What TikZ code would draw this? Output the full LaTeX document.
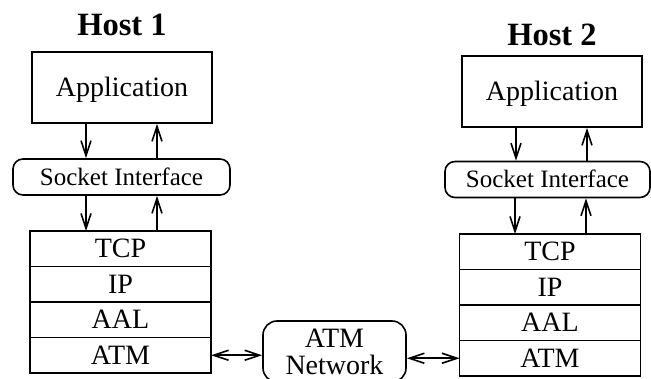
\documentclass[tikz,border=0pt]{standalone}
\usepackage{fontspec}
\setmainfont{Liberation Serif}
\usetikzlibrary{arrows.meta,positioning}

\tikzset{
  layer/.style={draw, minimum width=181pt, minimum height=35.5pt, inner sep=0pt, outer sep=0pt,
    text height=18.5pt, text depth=0pt},
  appbox/.style={draw, minimum width=180pt, minimum height=71pt, inner sep=0pt,
    text height=18.5pt, text depth=0pt},
  sockbox/.style={draw, rounded corners=10pt, minimum height=36pt, inner sep=0pt,
    text height=16.5pt, text depth=0pt, font=\fontsize{25}{28}\selectfont},
  netbox/.style={draw, rounded corners=14pt, minimum width=143pt, minimum height=61pt,
    inner sep=0pt, align=center, font=\fontsize{28}{27}\selectfont},
  hosttitle/.style={font=\fontsize{32.5}{34}\selectfont\bfseries},
  flow/.style={-{Straight Barb[length=15pt,width=10pt]}},
  biflow/.style={{Straight Barb[length=15pt,width=10pt]}-{Straight Barb[length=15pt,width=10pt]}},
}

\begin{document}
\begin{tikzpicture}[x=1pt, y=-1pt, line width=1.6pt, font=\fontsize{28}{25}\selectfont]
\clip (0,0) rectangle (651,379);

% Host 1
\node[hosttitle] (host1) at (122,25) {Host 1};
\node[appbox] (app1) at (122,87.5) {Application};
\node[sockbox, minimum width=217pt] (sock1) at (121.5,177) {Socket Interface};
\node[layer] (tcp1) at (120.5,248.75) {TCP};
\node[layer, below=0pt of tcp1] (ip1) {IP};
\node[layer, below=0pt of ip1] (aal1) {AAL};
\node[layer, below=0pt of aal1] (atm1) {ATM};

% Host 2
\node[hosttitle] (host2) at (552,35) {Host 2};
\node[appbox] (app2) at (552,91.5) {Application};
\node[sockbox, minimum width=205pt] (sock2) at (547.5,179.5) {Socket Interface};
\node[layer] (tcp2) at (550,251.75) {TCP};
\node[layer, below=0pt of tcp2] (ip2) {IP};
\node[layer, below=0pt of ip2] (aal2) {AAL};
\node[layer, below=0pt of aal2] (atm2) {ATM};

% network
\node[netbox] (net) at (334.5,351.5) {ATM\\Network};

% up and down the stacks
\draw[flow] ([xshift=-36pt]app1.south) -- ([xshift=-36pt]app1.south |- sock1.north);
\draw[flow] ([xshift=35pt]app1.south |- sock1.north) -- ([xshift=35pt]app1.south);
\draw[flow] ([xshift=-36pt]app1.south |- sock1.south) -- ([xshift=-36pt]app1.south |- tcp1.north);
\draw[flow] ([xshift=35pt]app1.south |- tcp1.north) -- ([xshift=35pt]app1.south |- sock1.south);

\draw[flow] ([xshift=-36pt]app2.south) -- ([xshift=-36pt]app2.south |- sock2.north);
\draw[flow] ([xshift=35pt]app2.south |- sock2.north) -- ([xshift=35pt]app2.south);
\draw[flow] ([xshift=-37pt]app2.south |- sock2.south) -- ([xshift=-37pt]app2.south |- tcp2.north);
\draw[flow] ([xshift=34pt]app2.south |- tcp2.north) -- ([xshift=34pt]app2.south |- sock2.south);

% links to the network
\draw[biflow] (atm1.east) -- (net.west |- atm1.east);
\draw[biflow] (net.east |- atm2.west) -- (atm2.west);
\end{tikzpicture}
\end{document}
